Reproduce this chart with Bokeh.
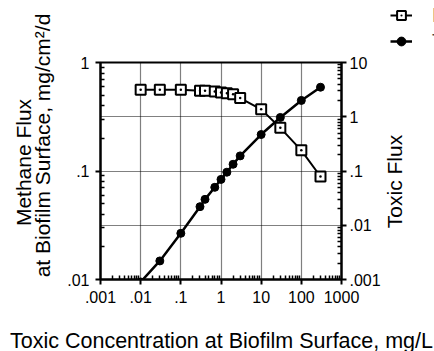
import math
from bokeh.plotting import figure
from bokeh.layouts import row, column
from bokeh.models import (Range1d, LogAxis, LogScale, FixedTicker, Grid, Label,
                          CustomJSTickFormatter, Legend, LegendItem)
from bokeh.embed import file_html
from bokeh.resources import INLINE

# ---- data ----
conc = [0.01, 0.03, 0.1, 0.3, 0.4, 0.7, 1, 1.4, 2, 3, 10, 30, 100, 300]
methane_flux = [0.56, 0.56, 0.56, 0.55, 0.55, 0.54, 0.53, 0.52, 0.51, 0.47, 0.37, 0.25, 0.155, 0.089]
toxic_flux = [0.0009, 0.0022, 0.0071, 0.022, 0.030, 0.050, 0.070, 0.095, 0.133, 0.19, 0.47, 0.97, 2.0, 3.5]

x_ticks = [0.001, 0.01, 0.1, 1, 10, 100, 1000]
left_ticks = [0.01, 0.1, 1]
right_ticks = [0.001, 0.01, 0.1, 1, 10]
x_grid = [0.01, 0.1, 1, 10, 100]
y_grid = [0.01, 0.1, 1]

x_title = "Toxic Concentration at Biofilm Surface, mg/L"
y_title_1 = "Methane Flux"
y_title_2 = "at Biofilm Surface, mg/cm²/d"
y2_title = "Toxic Flux"
series_names = ["Methane Flux", "Toxic Flux"]

FONT = "Liberation Sans"
NAN = float("nan")   # legend proxies carry no visible point

# ---- layout (pixels) ----
LEFT_W, RIGHT_W, TOP_H, BOT_H = 60, 51, 320, 31
MAIN_W = 434 - LEFT_W - RIGHT_W


def minors(ticks):
    out = []
    for t in ticks[:-1]:
        out += [t * m for m in range(2, 10)]
    return out


fmt = CustomJSTickFormatter(code="""
const e = Math.round(Math.log10(tick));
if (e >= 0) return String(Math.round(Math.pow(10, e)));
return '.' + '0'.repeat(-e - 1) + '1';
""")


def blank_fig(w, h):
    f = figure(width=w, height=h, x_range=Range1d(0, w), y_range=Range1d(h, 0),
               output_backend="svg", toolbar_location=None,
               x_axis_location=None, y_axis_location=None,
               min_border=0, min_border_left=0, min_border_right=0,
               min_border_top=0, min_border_bottom=0)
    f.frame_align = False
    f.grid.visible = False
    f.outline_line_color = None
    f.background_fill_color = "white"
    f.border_fill_color = "white"
    return f


# ---- main chart ----
p = figure(width=MAIN_W, height=TOP_H, x_axis_type="log", y_axis_type="log",
           x_range=Range1d(0.001, 1000), y_range=Range1d(0.01, 1),
           output_backend="svg", toolbar_location=None,
           min_border_left=40, min_border_right=40, min_border_top=62, min_border_bottom=41)
p.extra_y_ranges = {"toxic": Range1d(0.001, 10)}
p.extra_y_scales = {"toxic": LogScale()}
p.grid.visible = False
p.outline_line_color = "black"
p.outline_line_width = 2
p.background_fill_color = "white"
p.border_fill_color = "white"


def style_axis(ax, ticks, standoff):
    ax.ticker = FixedTicker(ticks=ticks, minor_ticks=minors(ticks))
    ax.formatter = fmt
    ax.axis_line_color = "black"
    ax.axis_line_width = 2
    ax.major_tick_in = 0
    ax.major_tick_out = 5
    ax.major_tick_line_width = 2
    ax.minor_tick_in = 4
    ax.minor_tick_out = 0
    ax.minor_tick_line_width = 1.5
    ax.major_label_text_font = FONT
    ax.major_label_text_font_size = "16px"
    ax.major_label_text_color = "black"
    ax.major_label_standoff = standoff


style_axis(p.xaxis[0], x_ticks, 6)
style_axis(p.yaxis[0], left_ticks, 6)
right = LogAxis(y_range_name="toxic")
style_axis(right, right_ticks, 3)
p.add_layout(right, "right")

p.add_layout(Grid(dimension=0, ticker=FixedTicker(ticks=x_grid),
                  grid_line_color="black", grid_line_dash="1 1", grid_line_width=1.2))
p.add_layout(Grid(dimension=1, ticker=FixedTicker(ticks=y_grid), y_range_name="toxic",
                  grid_line_color="black", grid_line_dash="1 1", grid_line_width=1.2))

m_style = dict(marker="square_dot", size=10, line_color="black", line_width=2, fill_color="white")
t_style = dict(marker="circle", size=8, line_color="black", fill_color="black")

p.line(conc, methane_flux, line_color="black", line_width=2)
p.scatter(conc, methane_flux, **m_style)
p.line(conc, toxic_flux, line_color="black", line_width=2.5, y_range_name="toxic")
p.scatter(conc, toxic_flux, y_range_name="toxic", **t_style)

# ---- left titles ----
lf = blank_fig(LEFT_W, TOP_H)
kw = dict(text_font=FONT, text_font_size="21px", text_color="black",
          text_align="center", text_baseline="middle")
lf.add_layout(Label(x=23, y=162, text=y_title_1, angle=math.pi / 2, **kw))
lf.add_layout(Label(x=42, y=145, text=y_title_2, angle=math.pi / 2, **kw))

# ---- right title + legend ----
rf = blank_fig(RIGHT_W, TOP_H)
rf.add_layout(Label(x=10.5, y=181, text=y2_title, angle=math.pi / 2, **kw))
lg_m_line = rf.line(x=[NAN], y=[NAN], line_color="black", line_width=2)
lg_m_pts = rf.scatter(x=[NAN], y=[NAN], **m_style)
lg_t_line = rf.line(x=[NAN], y=[NAN], line_color="black", line_width=2.5)
lg_t_pts = rf.scatter(x=[NAN], y=[NAN], **t_style)
legend = Legend(items=[LegendItem(label=series_names[0], renderers=[lg_m_line, lg_m_pts]),
                       LegendItem(label=series_names[1], renderers=[lg_t_line, lg_t_pts])],
                location=(7, TOP_H - 3 - 50), padding=0, margin=0, spacing=2,
                glyph_width=22, glyph_height=24, label_height=24, label_standoff=20,
                label_text_font=FONT, label_text_font_size="21px",
                border_line_color=None, background_fill_alpha=0)
rf.add_layout(legend, "center")

# ---- bottom title ----
bf = blank_fig(434, BOT_H)
bf.add_layout(Label(x=221, y=20, text=x_title, text_font=FONT, text_font_size="21.5px",
                    text_color="black", text_align="center", text_baseline="middle"))

layout = column(row(lf, p, rf, spacing=0), bf, spacing=0)
open("out.html", "w").write(file_html(layout, INLINE))
